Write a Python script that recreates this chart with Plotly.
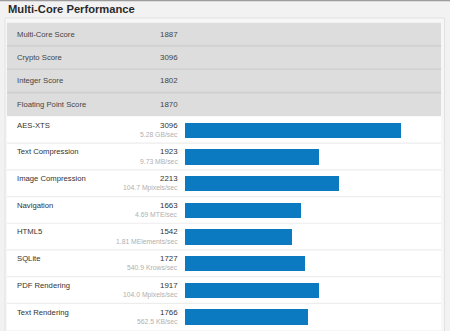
import plotly.graph_objects as go

# ---------------- data ----------------
title_text = "Multi-Core Performance"
score_labels = ["Multi-Core Score", "Crypto Score", "Integer Score", "Floating Point Score"]
score_values = [1887, 3096, 1802, 1870]
bench_names = ["AES-XTS", "Text Compression", "Image Compression", "Navigation",
               "HTML5", "SQLite", "PDF Rendering", "Text Rendering"]
bench_scores = [3096, 1923, 2213, 1663, 1542, 1727, 1917, 1766]
bench_rates = ["5.28 GB/sec", "9.73 MB/sec", "104.7 Mpixels/sec", "4.69 MTE/sec",
               "1.81 MElements/sec", "540.9 Krows/sec", "104.0 Mpixels/sec", "562.5 KB/sec"]

# ---------------- layout constants ----------------
W, H = 450, 331
FONT = "Liberation Sans, Arial, Helvetica, sans-serif"
BAR_COLOR = "#0b7ac1"

def px_x(p):
    return p / W

def px_y(p):
    return (H - p) / H

bar_x0 = 184.7
px_per_unit = (400.3 - bar_x0) / 3096.0
x_max = (W - bar_x0) / px_per_unit

bench_top, bench_bot = 116.5, 330.0
score_top, score_bot = 22.5, 116.0

fig = go.Figure()

fig.add_trace(go.Bar(
    x=bench_scores, y=bench_names, orientation="h",
    marker=dict(color=BAR_COLOR, line=dict(width=0)),
    width=0.575, hoverinfo="skip", showlegend=False,
))

shapes = []
# top dark rule
shapes.append(dict(type="line", xref="paper", yref="paper", x0=0, x1=1,
                   y0=px_y(0.6), y1=px_y(0.6), line=dict(color="#9c9c9c", width=1.5)))
# panel
shapes.append(dict(type="rect", xref="paper", yref="paper", x0=px_x(5), x1=px_x(444.5),
                   y0=px_y(331.5), y1=px_y(18), fillcolor="#f7f7f7",
                   line=dict(color="#e2e2e2", width=1), layer="below"))
# score rows (gray)
for i in range(len(score_labels)):
    shapes.append(dict(type="rect", xref="paper", yref="y2", x0=px_x(7), x1=px_x(441),
                       y0=i - 0.5, y1=i + 0.5, fillcolor="#dddddd",
                       line=dict(width=0), layer="below"))
for i in range(len(score_labels) - 1):
    shapes.append(dict(type="line", xref="paper", yref="y2", x0=px_x(7), x1=px_x(441),
                       y0=i + 0.5, y1=i + 0.5, line=dict(color="#d0d0d0", width=1.6),
                       layer="below"))
# benchmark rows (white)
for i in range(len(bench_names)):
    shapes.append(dict(type="rect", xref="paper", yref="y", x0=px_x(7), x1=px_x(441),
                       y0=i - 0.5, y1=i + 0.5, fillcolor="#ffffff",
                       line=dict(width=0), layer="below"))
for i in range(len(bench_names) - 1):
    shapes.append(dict(type="line", xref="paper", yref="y", x0=px_x(7), x1=px_x(441),
                       y0=i + 0.5, y1=i + 0.5, line=dict(color="#ededed", width=1.2),
                       layer="below"))

annotations = []
annotations.append(dict(text="<b>" + title_text + "</b>", xref="paper", yref="paper",
                        x=px_x(6.5), y=px_y(8.8), xanchor="left", yanchor="middle",
                        showarrow=False, borderpad=0,
                        font=dict(family=FONT, size=11.2, color="#2a2a2a")))
for lab, val in zip(score_labels, score_values):
    annotations.append(dict(text=lab, xref="paper", yref="y2", x=px_x(15.5), y=lab,
                            xanchor="left", yanchor="middle", showarrow=False, borderpad=0,
                            font=dict(family=FONT, size=7.7, color="#444444")))
    annotations.append(dict(text=str(val), xref="paper", yref="y2", x=px_x(178.5), y=lab,
                            xanchor="right", yanchor="middle", showarrow=False, borderpad=0,
                            font=dict(family=FONT, size=7.9, color="#444444")))
for name, sc, rate in zip(bench_names, bench_scores, bench_rates):
    annotations.append(dict(text=name, xref="paper", yref="y", x=px_x(15.5), y=name,
                            xanchor="left", yanchor="middle", yshift=4.6,
                            showarrow=False, borderpad=0,
                            font=dict(family=FONT, size=7.7, color="#333333")))
    annotations.append(dict(text=str(sc), xref="paper", yref="y", x=px_x(178.5), y=name,
                            xanchor="right", yanchor="middle", yshift=4.6,
                            showarrow=False, borderpad=0,
                            font=dict(family=FONT, size=7.9, color="#333333")))
    annotations.append(dict(text=rate, xref="paper", yref="y", x=px_x(178.5), y=name,
                            xanchor="right", yanchor="middle", yshift=-4.6,
                            showarrow=False, borderpad=0,
                            font=dict(family=FONT, size=6.8, color="#b0b0b0")))

fig.update_layout(
    width=W, height=H,
    margin=dict(l=0, r=0, t=0, b=0),
    paper_bgcolor="#f2f2f2",
    plot_bgcolor="rgba(0,0,0,0)",
    showlegend=False,
    bargap=0,
    xaxis=dict(domain=[px_x(bar_x0), 1], range=[0, x_max], visible=False, fixedrange=True),
    yaxis=dict(domain=[px_y(bench_bot), px_y(bench_top)], type="category",
               categoryorder="array", categoryarray=bench_names,
               range=[len(bench_names) - 0.5, -0.5], visible=False, fixedrange=True),
    yaxis2=dict(domain=[px_y(score_bot), px_y(score_top)], type="category",
                categoryorder="array", categoryarray=score_labels,
                range=[len(score_labels) - 0.5, -0.5], visible=False, fixedrange=True,
                anchor="x"),
    shapes=shapes,
    annotations=annotations,
)

fig.write_html("out.html", config={"displayModeBar": False})
